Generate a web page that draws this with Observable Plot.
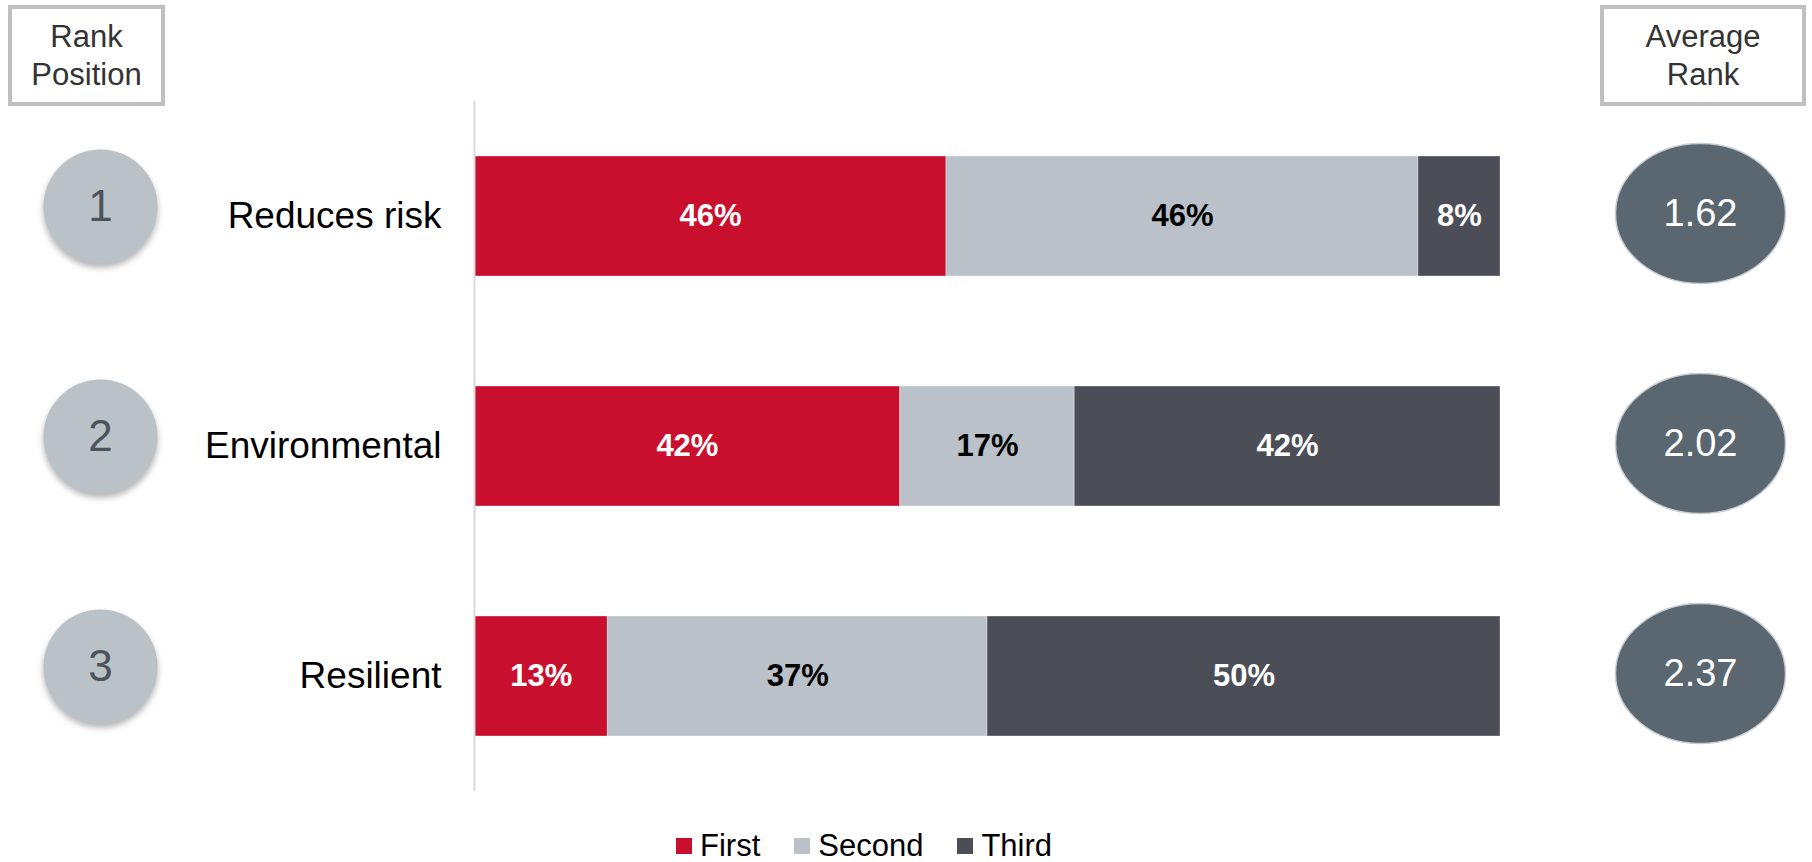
<!DOCTYPE html>
<html>
<head>
<meta charset="utf-8">
<script src="https://cdn.jsdelivr.net/npm/d3@7"></script>
<script src="https://cdn.jsdelivr.net/npm/@observablehq/plot@0.6"></script>
<style>
  html, body { margin: 0; padding: 0; background: #fff; }
  body { width: 1812px; height: 862px; position: relative; overflow: hidden; font-family: "Liberation Sans", Arial, sans-serif; }
  #chart svg { display: block; }
  .hdr { position: absolute; box-sizing: border-box; border: 4px solid #c0c0c0; background: #fff;
         display: flex; align-items: center; justify-content: center; text-align: center;
         font-family: "Liberation Sans", Arial, sans-serif; font-size: 31px; line-height: 38px; color: #333; }
  .lg-swatches { font-family: "Liberation Sans", Arial, sans-serif !important; font-size: 31px !important; color: #000;
                 height: 52px; margin: 0 !important; padding-left: 676px; }
  .lg-swatch { margin-right: 34px !important; }
  .lg-swatch > svg { margin-right: 8px !important; }
</style>
</head>
<body>
<div class="hdr" style="left:8px;top:5px;width:157px;height:101px;">Rank<br>Position</div>
<div class="hdr" style="left:1600px;top:5px;width:206px;height:101px;">Average<br>Rank</div>
<div id="chart"></div>
<div id="legend"></div>
<script>
const categories = ["Reduces risk", "Environmental", "Resilient"];
const ranks = ["First", "Second", "Third"];
const firstPct = [46, 41.5, 13];
const secondPct = [46, 17, 37];
const thirdPct = [8, 41.5, 50];
const rankPositions = ["1", "2", "3"];
const averageRanks = [1.62, 2.02, 2.37];
const colors = ["#c8102e", "#bac1c8", "#4b4e56"];

const series = [firstPct, secondPct, thirdPct];
const rows = [];
categories.forEach((c, i) => ranks.forEach((r, j) => rows.push({cat: c, rank: r, value: series[j][i]})));
const side = categories.map((c, i) => ({cat: c, pos: rankPositions[i], avg: averageRanks[i]}));

const ellipse = {
  draw(ctx) {
    const rx = 85, ry = 70, k = 0.5523;
    ctx.moveTo(rx, 0);
    ctx.bezierCurveTo(rx, ry * k, rx * k, ry, 0, ry);
    ctx.bezierCurveTo(-rx * k, ry, -rx, ry * k, -rx, 0);
    ctx.bezierCurveTo(-rx, -ry * k, -rx * k, -ry, 0, -ry);
    ctx.bezierCurveTo(rx * k, -ry, rx, -ry * k, rx, 0);
    ctx.closePath();
  }
};

const font = '"Liberation Sans", Arial, sans-serif';
const stackOpts = {x: "value", y: "cat", z: "rank", text: d => Math.round(d.value) + "%"};

const chart = Plot.plot({
  width: 1812,
  height: 820,
  marginLeft: 474,
  marginRight: 312,
  marginTop: 101,
  marginBottom: 29,
  style: {fontFamily: font, fontSize: "37px", color: "#000", background: "#fff"},
  x: {domain: [0, 100], axis: null},
  y: {domain: categories, paddingInner: 0.478, paddingOuter: 0.239, tickSize: 0, tickPadding: 33, label: null},
  color: {domain: ranks, range: colors},
  marks: [
    Plot.barX(rows, Plot.stackX({x: "value", y: "cat", z: "rank", fill: "rank", insetTop: 0, insetBottom: 0,
      stroke: "#ffffff", strokeOpacity: 0.35, strokeWidth: 1})),
    Plot.text(rows, Plot.filter(d => d.rank !== "Second", Plot.stackX({...stackOpts, fill: "#fff", fontWeight: "bold", fontSize: 31}))),
    Plot.text(rows, Plot.filter(d => d.rank === "Second", Plot.stackX({...stackOpts, fill: "#000", fontWeight: "bold", fontSize: 31}))),
    Plot.ruleX([0], {stroke: "#d9d9d9", strokeWidth: 2}),
    Plot.dot(side, {y: "cat", frameAnchor: "left", dx: -374, dy: -10, r: 57, fill: "#bac1c7", stroke: "none"}),
    Plot.text(side, {y: "cat", text: "pos", frameAnchor: "left", textAnchor: "middle", dx: -374, dy: -10, fill: "#4d535b", fontSize: 44}),
    Plot.dot(side, {y: "cat", frameAnchor: "right", dx: 200, dy: -3, symbol: ellipse, fill: "#5a6670", stroke: "#c5ccd2", strokeWidth: 1.5}),
    Plot.text(side, {y: "cat", text: d => d.avg.toFixed(2), frameAnchor: "right", textAnchor: "middle", dx: 200, dy: -3, fill: "#fff", fontSize: 38})
  ]
});
document.getElementById("chart").appendChild(chart);

// soft drop shadows under the rank circles and the average-rank ellipses
d3.select(chart).selectAll("circle").style("filter", "drop-shadow(0px 4px 3px rgba(0,0,0,0.3))");
d3.select(chart).selectAll("path").filter(function () { return this.getAttribute("fill") === "#5a6670"; })
  .style("filter", "drop-shadow(0px 5px 4px rgba(0,0,0,0.3))");

const legend = Plot.legend({
  color: {domain: ranks, range: colors},
  swatchSize: 16,
  className: "lg",
  style: {fontSize: "31px", fontFamily: font}
});
document.getElementById("legend").appendChild(legend);
</script>
</body>
</html>
